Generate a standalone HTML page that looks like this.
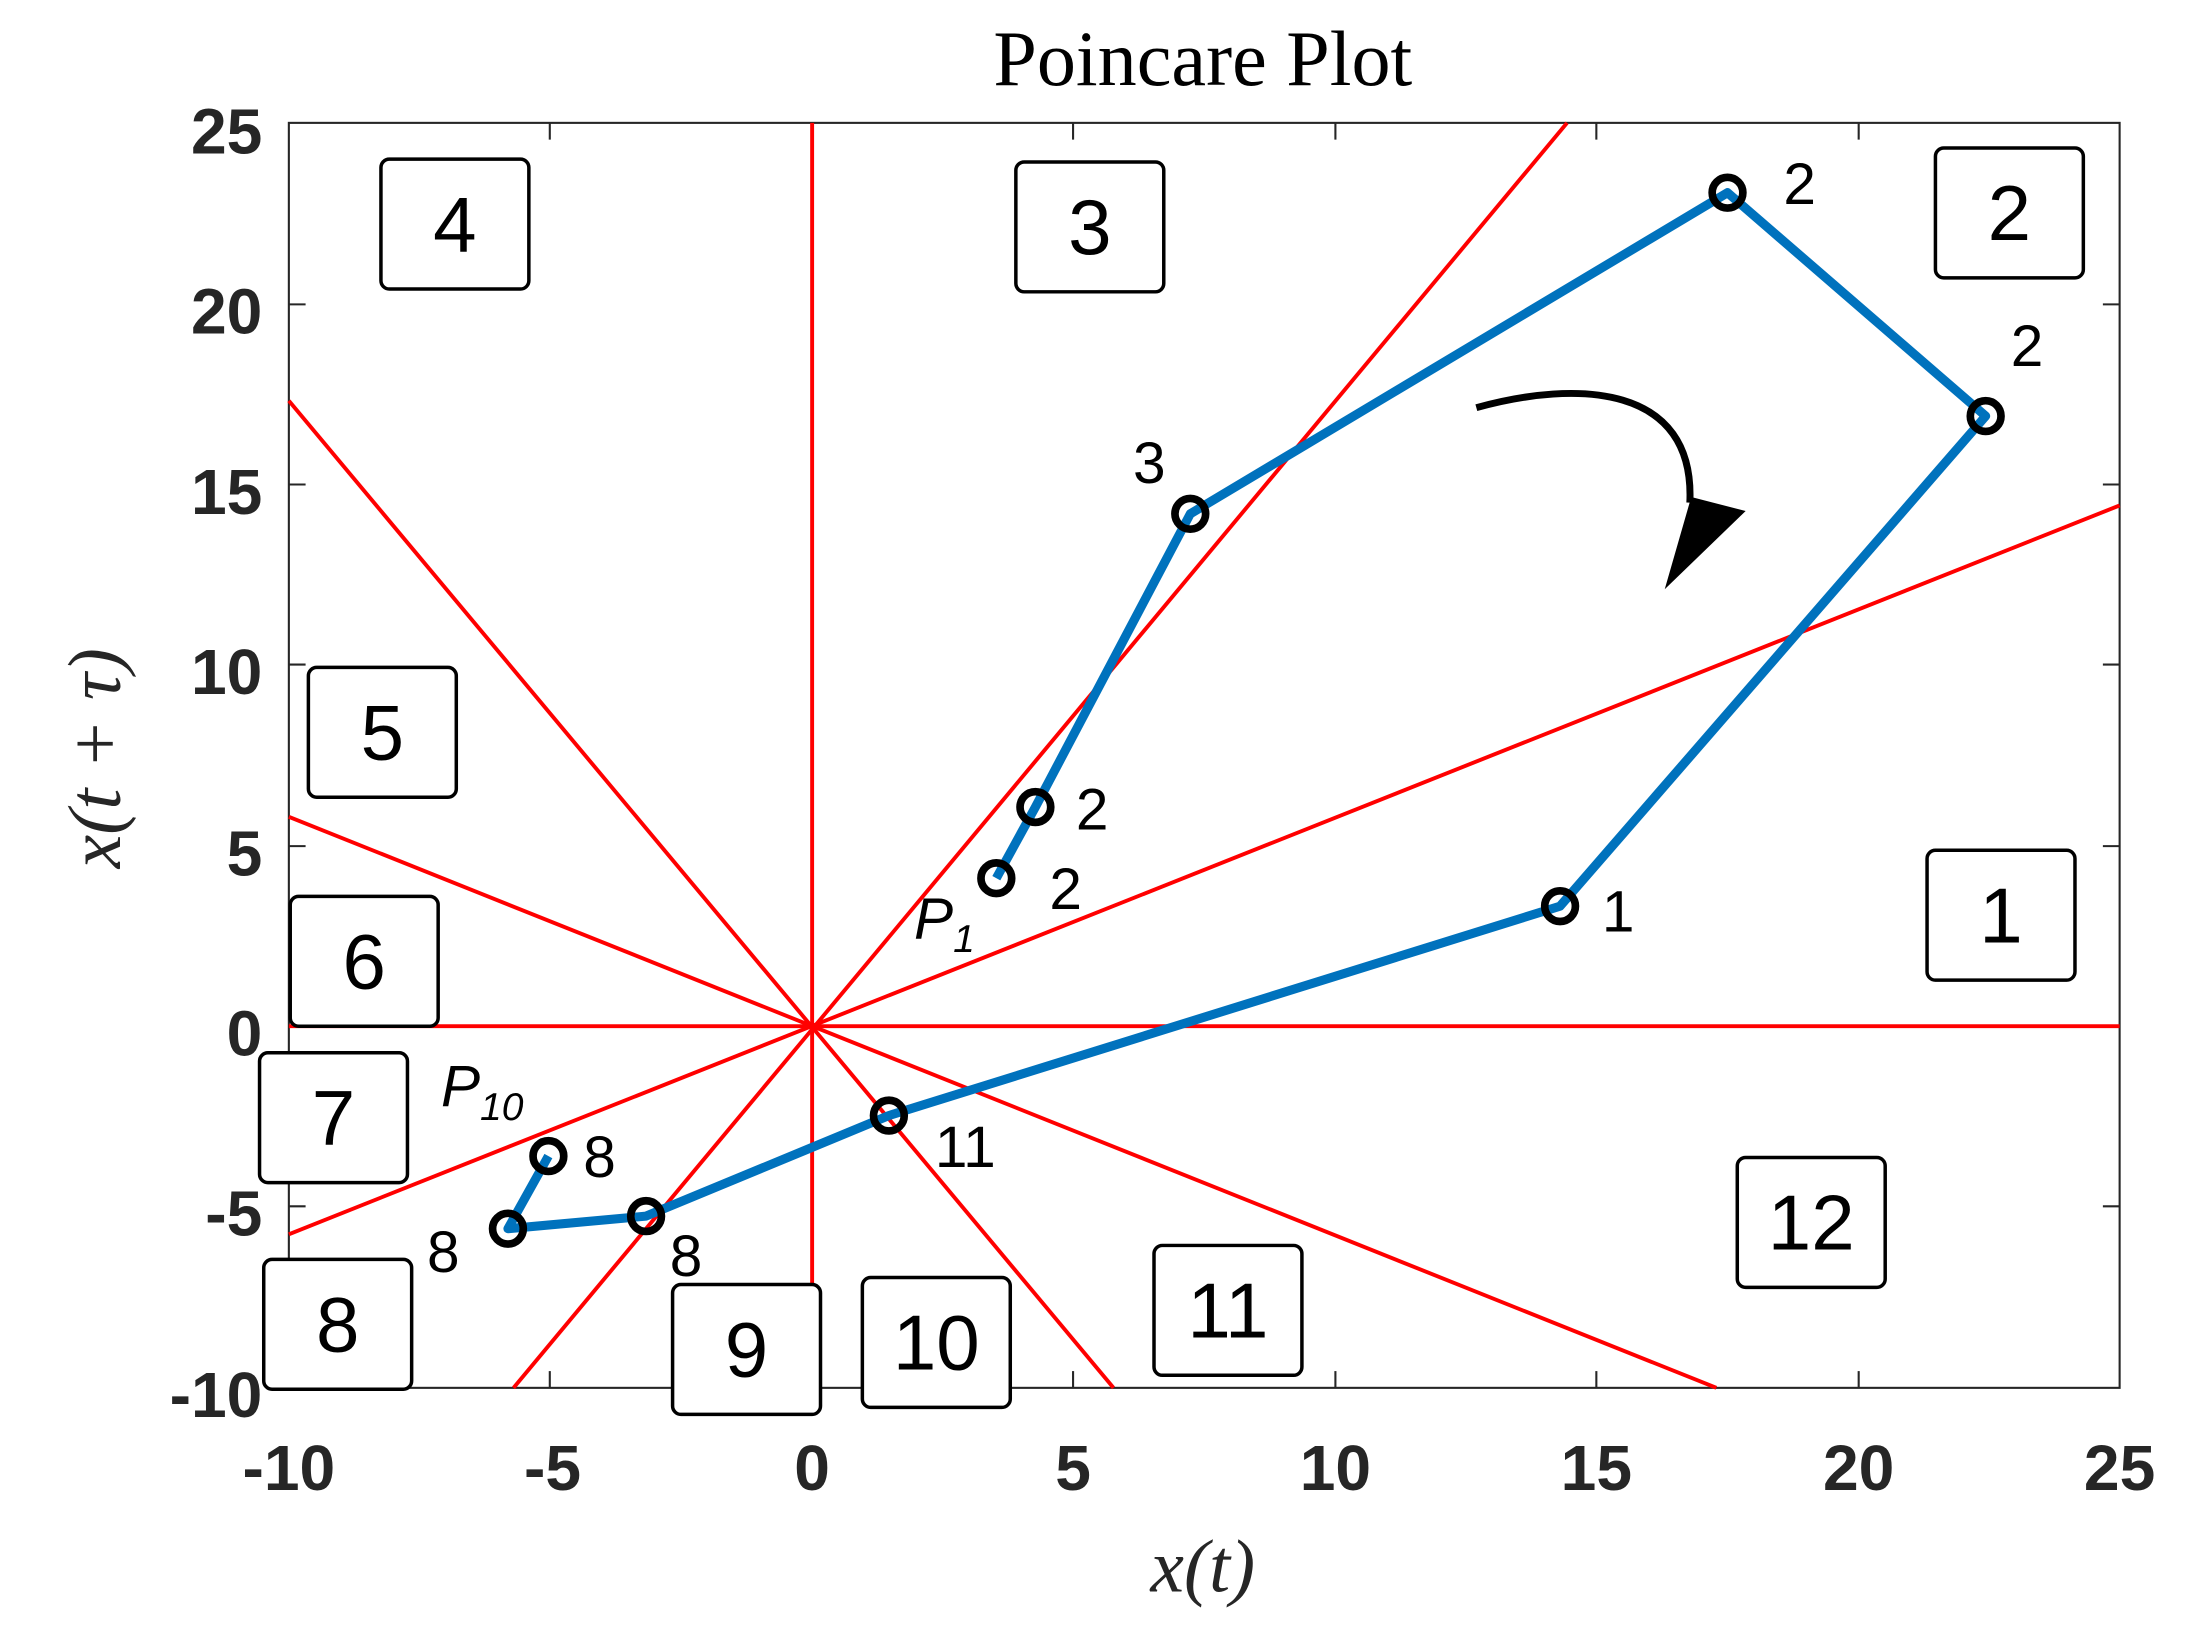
<!DOCTYPE html>
<html><head><meta charset="utf-8"><style>html,body{margin:0;padding:0;background:#fff}svg{display:block}</style></head>
<body>
<svg width="2188" height="1628" viewBox="0 0 1568 1166" preserveAspectRatio="none" xmlns="http://www.w3.org/2000/svg" font-family="Liberation Sans, sans-serif">
<rect x="207" y="88" width="1312" height="906" fill="#fff" stroke="#262626" stroke-width="1.5"/>
<g stroke="#262626" stroke-width="1.5">
<line x1="207" y1="994" x2="207" y2="982"/><line x1="394" y1="994" x2="394" y2="982"/><line x1="582" y1="994" x2="582" y2="982"/><line x1="769" y1="994" x2="769" y2="982"/><line x1="957" y1="994" x2="957" y2="982"/><line x1="1144" y1="994" x2="1144" y2="982"/><line x1="1332" y1="994" x2="1332" y2="982"/>
<line x1="394" y1="88" x2="394" y2="100"/><line x1="582" y1="88" x2="582" y2="100"/><line x1="769" y1="88" x2="769" y2="100"/><line x1="957" y1="88" x2="957" y2="100"/><line x1="1144" y1="88" x2="1144" y2="100"/><line x1="1332" y1="88" x2="1332" y2="100"/>
<line x1="207" y1="864" x2="219" y2="864"/><line x1="207" y1="735" x2="219" y2="735"/><line x1="207" y1="606" x2="219" y2="606"/><line x1="207" y1="476" x2="219" y2="476"/><line x1="207" y1="347" x2="219" y2="347"/><line x1="207" y1="218" x2="219" y2="218"/>
<line x1="1519" y1="864" x2="1507" y2="864"/><line x1="1519" y1="735" x2="1507" y2="735"/><line x1="1519" y1="606" x2="1507" y2="606"/><line x1="1519" y1="476" x2="1507" y2="476"/><line x1="1519" y1="347" x2="1507" y2="347"/><line x1="1519" y1="218" x2="1507" y2="218"/>
</g>
<g stroke="#ff0000" stroke-width="2.8">
<line x1="582" y1="88" x2="582" y2="994"/>
<line x1="207" y1="735" x2="1519" y2="735"/>
<line x1="1123" y1="88" x2="368" y2="994"/>
<line x1="1519" y1="362" x2="207" y2="884"/>
<line x1="207" y1="287" x2="798" y2="994"/>
<line x1="207" y1="585" x2="1230" y2="994"/>
</g>
<g fill="none" stroke="#0072bd" stroke-width="6.5" stroke-linejoin="round">
<polyline points="714,629 742,578 853,368 1238,138 1423,298 1118,649 637,799 463,871 364,880 393,828"/>
</g>
<g fill="none" stroke="#000" stroke-width="5.5">
<circle cx="1118" cy="649" r="11"/><circle cx="1423" cy="298" r="11"/><circle cx="1238" cy="138" r="11"/><circle cx="853" cy="368" r="11"/><circle cx="742" cy="578" r="11"/><circle cx="714" cy="629" r="11"/><circle cx="637" cy="799" r="11"/><circle cx="463" cy="871" r="11"/><circle cx="364" cy="880" r="11"/><circle cx="393" cy="828" r="11"/>
</g>
<path d="M1058,292 C1130,272 1215,275 1211,360" fill="none" stroke="#000" stroke-width="5"/>
<polygon points="1193,422 1251,366 1212,356" fill="#000"/>
<g fill="#fff" stroke="#000" stroke-width="2.5">
<rect x="273" y="114" width="106" height="93" rx="6"/><rect x="728" y="116" width="106" height="93" rx="6"/><rect x="1387" y="106" width="106" height="93" rx="6"/>
<rect x="221" y="478" width="106" height="93" rx="6"/><rect x="208" y="642" width="106" height="93" rx="6"/><rect x="186" y="754" width="106" height="93" rx="6"/>
<rect x="189" y="902" width="106" height="93" rx="6"/><rect x="482" y="920" width="106" height="93" rx="6"/><rect x="618" y="915" width="106" height="93" rx="6"/>
<rect x="827" y="892" width="106" height="93" rx="6"/><rect x="1245" y="829" width="106" height="93" rx="6"/><rect x="1381" y="609" width="106" height="93" rx="6"/>
</g>
<g font-size="56" text-anchor="middle" fill="#000">
<text x="326" y="180">4</text><text x="781" y="182">3</text><text x="1440" y="172">2</text>
<text x="274" y="544">5</text><text x="261" y="708">6</text><text x="239" y="820">7</text>
<text x="242" y="968">8</text><text x="535" y="986">9</text><text x="671" y="981">10</text>
<text x="880" y="958">11</text><text x="1298" y="895">12</text><text x="1434" y="675">1</text>
</g>
<g font-size="42" fill="#000">
<text x="1278" y="146">2</text><text x="1441" y="262">2</text><text x="812" y="346">3</text><text x="771" y="594">2</text><text x="752" y="651">2</text><text x="1148" y="667">1</text><text x="670" y="836">11</text><text x="418" y="843">8</text><text x="306" y="911">8</text><text x="480" y="914">8</text>
<text x="655" y="672" font-style="italic">P<tspan font-size="28" dy="10">1</tspan></text>
<text x="316" y="792" font-style="italic">P<tspan font-size="28" dy="10">10</tspan></text>
</g>
<g font-size="46" font-weight="bold" fill="#262626" text-anchor="middle">
<text x="207" y="1067">-10</text><text x="396" y="1067">-5</text><text x="582" y="1067">0</text><text x="769" y="1067">5</text><text x="957" y="1067">10</text><text x="1144" y="1067">15</text><text x="1332" y="1067">20</text><text x="1519" y="1067">25</text>
</g>
<g font-size="46" font-weight="bold" fill="#262626" text-anchor="end">
<text x="188" y="110">25</text><text x="188" y="239">20</text><text x="188" y="368">15</text><text x="188" y="497">10</text><text x="188" y="627">5</text><text x="188" y="756">0</text><text x="188" y="885">-5</text><text x="188" y="1015">-10</text>
</g>
<text x="862" y="61" font-family="Liberation Serif, serif" font-size="56" text-anchor="middle" fill="#000">Poincare Plot</text>
<text x="862" y="1140" font-family="Liberation Serif, serif" font-style="italic" font-size="54" text-anchor="middle" fill="#262626">x(t)</text>
<text transform="translate(86,543) rotate(-90)" font-family="Liberation Serif, serif" font-style="italic" font-size="54" text-anchor="middle" fill="#262626">x(t + τ)</text>
</svg>
</body></html>
